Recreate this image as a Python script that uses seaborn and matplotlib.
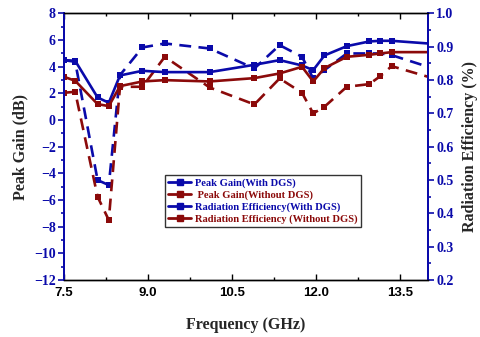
import matplotlib
matplotlib.use("Agg")
import matplotlib.pyplot as plt
from matplotlib.lines import Line2D
from matplotlib.ticker import MultipleLocator, FixedLocator
import seaborn as sns
import pandas as pd

# Measured data
freq_ghz = [7.5, 7.7, 8.1, 8.3, 8.5, 8.9, 9.3, 10.1, 10.9, 11.35, 11.75, 11.95,
            12.15, 12.55, 12.95, 13.15, 13.35, 14.0]
gain_with_dgs = [4.5, 4.45, 1.7, 1.3, 3.35, 3.7, 3.6, 3.6, 4.15, 4.5, 4.1, 3.75,
                 4.85, 5.55, 5.9, 5.95, 5.95, 5.75]
gain_without_dgs = [3.25, 2.95, 1.2, 1.05, 2.55, 2.9, 3.0, 2.9, 3.15, 3.5, 4.0, 2.9,
                    3.9, 4.75, 4.9, 5.0, 5.1, 5.1]
eff_with_dgs = [0.86, 0.855, 0.50, 0.485, 0.815, 0.898, 0.91, 0.895, 0.835, 0.905,
                0.87, 0.805, 0.83, 0.88, 0.88, 0.88, 0.875, 0.84]
eff_without_dgs = [0.762, 0.765, 0.45, 0.38, 0.78, 0.78, 0.87, 0.778, 0.727, 0.805,
                   0.762, 0.70, 0.72, 0.78, 0.788, 0.812, 0.842, 0.81]

x_ticks = [7.5, 9.0, 10.5, 12.0, 13.5]
labels = ["Peak Gain(With DGS)", " Peak Gain(Without DGS)",
          "Radiation Efficiency(With DGS)", "Radiation Efficiency (Without DGS)"]

BLUE = "#0A0AAA"
RED = "#8B0A0A"
SERIF = "Liberation Serif"
SANS = "Liberation Sans"

sns.set_style("ticks")
plt.rcParams["font.family"] = [SERIF, "DejaVu Serif"]

df = pd.DataFrame({"freq": freq_ghz, "g1": gain_with_dgs, "g2": gain_without_dgs,
                   "e1": eff_with_dgs, "e2": eff_without_dgs})

fig = plt.figure(figsize=(4.8, 3.37), dpi=100)
ax = fig.add_axes([0.1333, 0.169, 0.7584, 0.791])
ax2 = ax.twinx()

marks = list(range(len(freq_ghz) - 1))
dash = (0, (4.5, 2.8))
common = dict(marker="s", markersize=4.2, markeredgewidth=0, markevery=marks,
              linewidth=1.9, clip_on=True)

sns.lineplot(data=df, x="freq", y="e1", ax=ax2, color=BLUE, linestyle=dash, **common)
sns.lineplot(data=df, x="freq", y="e2", ax=ax2, color=RED, linestyle=dash, **common)
sns.lineplot(data=df, x="freq", y="g1", ax=ax, color=BLUE, **common)
sns.lineplot(data=df, x="freq", y="g2", ax=ax, color=RED, **common)

ax.set_zorder(ax2.get_zorder() + 1)
ax.patch.set_visible(False)

ax.set_xlim(7.5, 14.0)
ax.set_ylim(-12, 8)
ax2.set_ylim(0.2, 1.0)

ax.xaxis.set_major_locator(FixedLocator(x_ticks))
ax.xaxis.set_minor_locator(MultipleLocator(0.75))
ax.set_xticklabels([f"{v:.1f}" for v in x_ticks], fontfamily=SANS,
                   fontweight="bold", fontsize=9.5)
ax.yaxis.set_major_locator(MultipleLocator(2))
ax.yaxis.set_minor_locator(MultipleLocator(1))
ax2.yaxis.set_major_locator(MultipleLocator(0.1))
ax2.yaxis.set_minor_locator(MultipleLocator(0.05))

ax.tick_params(axis="x", which="both", direction="in", top=True, colors="black")
ax.tick_params(axis="x", which="major", length=4, width=1, pad=5)
ax.tick_params(axis="x", which="minor", length=2.5, width=1)
ax.tick_params(axis="y", which="major", direction="out", length=4, width=1.2,
               colors=BLUE, labelsize=10, pad=2)
ax.tick_params(axis="y", which="minor", direction="out", length=2.5, width=1.2,
               colors=BLUE)
ax2.tick_params(axis="y", which="major", direction="out", length=4, width=1.2,
                colors=BLUE, labelsize=10, pad=2)
ax2.tick_params(axis="y", which="minor", direction="out", length=2.5, width=1.2,
                colors=BLUE)
for lab in ax.get_yticklabels() + ax2.get_yticklabels():
    lab.set_fontweight("bold")
    lab.set_fontfamily(SERIF)

for a in (ax, ax2):
    a.spines["left"].set_color(BLUE)
    a.spines["right"].set_color(BLUE)
    a.spines["left"].set_linewidth(1.4)
    a.spines["right"].set_linewidth(1.4)
    a.spines["top"].set_color("black")
    a.spines["bottom"].set_color("black")
    a.spines["top"].set_linewidth(1.0)
    a.spines["bottom"].set_linewidth(1.0)
    a.spines["top"].set_visible(True)
    a.spines["right"].set_visible(True)

ax.set_xlabel("Frequency (GHz)", fontsize=11.5, fontweight="bold", labelpad=13)
ax.set_ylabel("Peak Gain (dB)", fontsize=11.5, fontweight="bold", labelpad=4)
ax2.set_ylabel("Radiation Efficiency (%)", fontsize=11.5, fontweight="bold",
               labelpad=6)

handles = [
    Line2D([], [], color=BLUE, marker="s", markersize=4.2, lw=2),
    Line2D([], [], color=RED, marker="s", markersize=4.2, lw=2),
    Line2D([], [], color=BLUE, marker="s", markersize=4.2, lw=2),
    Line2D([], [], color=RED, marker="s", markersize=4.2, lw=2),
]
leg = ax.legend(handles, labels, loc="upper left", bbox_to_anchor=(0.277, 0.394),
                borderaxespad=0, frameon=True, fancybox=False,
                prop={"family": SERIF, "weight": "bold", "size": 7.6},
                handlelength=2.2, handletextpad=0.4, labelspacing=0.22,
                borderpad=0.3)
leg.get_frame().set_edgecolor("black")
leg.get_frame().set_linewidth(1.0)
for txt, c in zip(leg.get_texts(), [BLUE, RED, BLUE, RED]):
    txt.set_color(c)

fig.savefig("out.png", dpi=100)
